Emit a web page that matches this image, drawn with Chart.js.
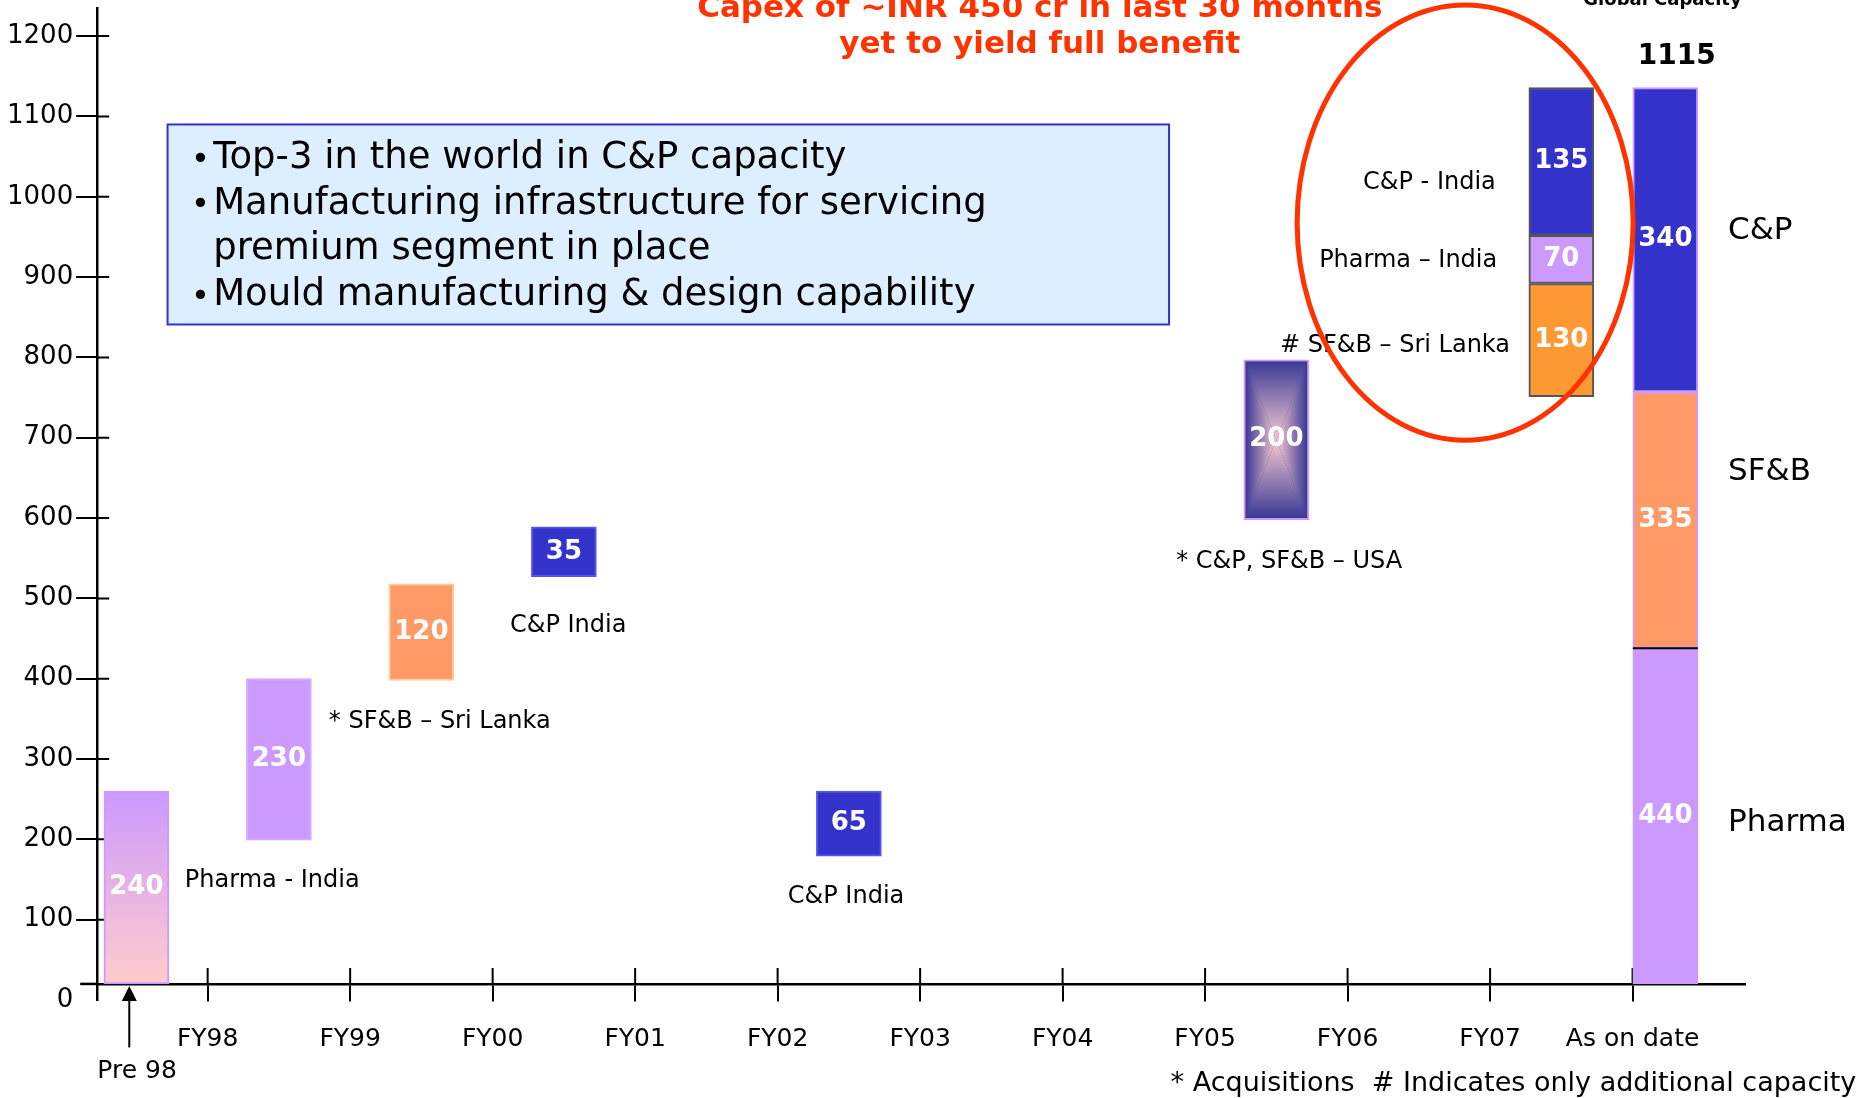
<!DOCTYPE html>
<html>
<head>
<meta charset="utf-8">
<title>Global capacity build-up</title>
<script src="https://cdn.jsdelivr.net/npm/chart.js@4.4.1/dist/chart.umd.min.js"></script>
<style>
  html, body { margin: 0; padding: 0; background: #ffffff; }
  canvas { display: block; }
</style>
</head>
<body>
<canvas id="capacityChart" width="1860" height="1098"></canvas>
<script>
// Capacity build-up (waterfall style)

const periods = ['Pre 98', 'FY98', 'FY99', 'FY00', 'FY01', 'FY02', 'FY03', 'FY04', 'FY05', 'FY06', 'FY07', 'As on date'];
const seriesNames = ['Pharma', 'SF&B', 'C&P'];

// each block: period, bottom and top on the y scale, printed value
const pharmaAt    = ['Pre 98', 'FY98', 'FY07', 'As on date'];
const pharmaFrom  = [20, 199, 892, 20];
const pharmaTo    = [260, 400, 952, 438];
const pharmaValue = [240, 230, 70, 440];

const sfbAt    = ['FY99', 'FY07', 'As on date'];
const sfbFrom  = [398, 751, 438];
const sfbTo    = [518, 892, 757];
const sfbValue = [120, 130, 335];

const cpAt    = ['FY00', 'FY02', 'FY07', 'As on date'];
const cpFrom  = [527, 179, 952, 757];
const cpTo    = [589, 260, 1136, 1136];
const cpValue = [35, 65, 135, 340];

const usaAt    = ['FY05'];
const usaFrom  = [598];
const usaTo    = [797];
const usaValue = [200];

const totalCapacity = 1115;
const baseLevel = 20;   // where the category axis sits on the y scale

const FONT = '"DejaVu Sans"';
const RED = '#FF3300';

// bars sit between two year ticks, the last one right on the "As on date" tick
const xOf = p => periods.indexOf(p) + (p === 'As on date' ? 0.23 : 0.5);

const points = (at, from, to, val) => at.map((p, i) => ({ x: xOf(p), y: [from[i], to[i]], period: p, value: val[i] }));

function pre98Gradient(c) {
  const chart = c.chart;
  if (!chart.chartArea || !c.raw) return '#CC99FF';
  const y = chart.scales.y;
  const g = chart.ctx.createLinearGradient(0, y.getPixelForValue(c.raw.y[1]), 0, y.getPixelForValue(c.raw.y[0]));
  g.addColorStop(0, '#CC99FF');
  g.addColorStop(1, '#FFCCCC');
  return g;
}

const datasets = [
  {
    label: seriesNames[0],
    data: points(pharmaAt, pharmaFrom, pharmaTo, pharmaValue),
    backgroundColor: c => (c.raw && c.raw.period === 'Pre 98') ? pre98Gradient(c) : '#CC99FF',
    borderColor: c => (c.raw && c.raw.period === 'FY07') ? '#555555' : (c.raw && c.raw.period === 'FY98' ? '#D4AAFF' : '#CC99FF')
  },
  {
    label: seriesNames[1],
    data: points(sfbAt, sfbFrom, sfbTo, sfbValue),
    backgroundColor: c => (c.raw && c.raw.period === 'FY07') ? '#FF9933' : '#FF9966',
    borderColor: c => (c.raw && c.raw.period === 'FY07') ? '#555555' : (c.raw && c.raw.period === 'FY99' ? '#FFCC99' : '#CC99FF')
  },
  {
    label: seriesNames[2],
    data: points(cpAt, cpFrom, cpTo, cpValue),
    backgroundColor: '#3333CC',
    borderColor: c => (c.raw && c.raw.period === 'FY07') ? '#555555' : (c.raw && c.raw.period === 'As on date' ? '#CC99FF' : '#5555EE')
  },
  {
    label: 'C&P, SF&B - USA',
    data: points(usaAt, usaFrom, usaTo, usaValue),
    backgroundColor: '#3A3A94',
    borderColor: '#CC99FF'
  }
].map(d => Object.assign(d, { borderWidth: 2, borderSkipped: false, barThickness: 65, grouped: false }));

// annotation layout, in axis units
const notes = [
  { text: 'Pharma - India', x: 0.84, y: 148, align: 'left' },
  { text: '* SF&B \u2013 Sri Lanka', x: 1.85, y: 347, align: 'left' },
  { text: 'C&P India', x: 3.53, y: 466, align: 'center' },
  { text: 'C&P India', x: 5.48, y: 128, align: 'center' },
  { text: '* C&P, SF&B \u2013 USA', x: 8.59, y: 546, align: 'center' },
  { text: '# SF&B \u2013 Sri Lanka', x: 10.14, y: 815, align: 'right' },
  { text: 'Pharma \u2013 India', x: 10.05, y: 920, align: 'right' },
  { text: 'C&P - India', x: 10.04, y: 1017, align: 'right' }
];
const seriesTagY = [221, 658, 958];
const boxLines = [
  { bullet: true, text: 'Top-3 in the world in C&P capacity' },
  { bullet: true, text: 'Manufacturing infrastructure for servicing' },
  { bullet: false, text: 'premium segment in place' },
  { bullet: true, text: 'Mould manufacturing & design capability' }
];
const titleLines = ['Capex of ~INR 450 cr in last 30 months', 'yet to yield full benefit'];

function put(ctx, str, x, y, font, color, align, baseline) {
  ctx.font = font;
  ctx.fillStyle = color;
  ctx.textAlign = align || 'left';
  ctx.textBaseline = baseline || 'middle';
  ctx.fillText(str, x, y);
}

const overlay = {
  id: 'overlay',
  beforeDatasetsDraw(chart) {
    // tick marks cross the axes in the original, and the base line runs a little past the value axis
    const { ctx, scales: { x, y } } = chart;
    const axisY = y.getPixelForValue(baseLevel);
    ctx.save();
    ctx.strokeStyle = '#000';
    ctx.lineWidth = 2;
    ctx.beginPath();
    x.ticks.forEach(t => {
      const px = x.getPixelForValue(t.value);
      ctx.moveTo(px, axisY);
      ctx.lineTo(px, axisY - 16);
    });
    y.ticks.forEach(t => {
      if (t.value === 0) return;
      const py = y.getPixelForValue(t.value);
      ctx.moveTo(x.left, py);
      ctx.lineTo(x.left + 12, py);
    });
    ctx.stroke();
    ctx.lineWidth = 2.5;
    ctx.beginPath();
    ctx.moveTo(x.left - 17, axisY);
    ctx.lineTo(x.left, axisY);
    ctx.stroke();
    ctx.restore();
  },
  afterDatasetDraw(chart, args) {
    const ctx = chart.ctx;
    if (args.index === 0) {
      // dark seam between Pharma and SF&B on the total column
      args.meta.data.forEach((el, i) => {
        if (chart.data.datasets[0].data[i].period !== 'As on date') return;
        const p = el.getProps(['x', 'y', 'width'], true);
        ctx.save();
        ctx.strokeStyle = '#000';
        ctx.lineWidth = 2;
        ctx.beginPath();
        ctx.moveTo(p.x - p.width / 2, p.y);
        ctx.lineTo(p.x + p.width / 2, p.y);
        ctx.stroke();
        ctx.restore();
      });
    }
    if (args.index !== 3) return;
    // rectangular "from centre" fill of the acquisition bar
    args.meta.data.forEach(el => {
      const p = el.getProps(['x', 'y', 'base', 'width'], true);
      const l = p.x - p.width / 2 + 2, r = p.x + p.width / 2 - 2;
      const t = Math.min(p.y, p.base) + 2, b = Math.max(p.y, p.base) - 2;
      const cx = (l + r) / 2, cy = (t + b) / 2;
      const parts = [
        [[l, t], [r, t], [l, t, l, cy]],
        [[l, b], [r, b], [l, b, l, cy]],
        [[l, t], [l, b], [l, t, cx, t]],
        [[r, t], [r, b], [r, t, cx, t]]
      ];
      ctx.save();
      parts.forEach(([a, c, g]) => {
        const grad = ctx.createLinearGradient(g[0], g[1], g[2], g[3]);
        grad.addColorStop(0, '#3A3A94');
        grad.addColorStop(1, '#F8CAD0');
        ctx.fillStyle = grad;
        ctx.beginPath();
        ctx.moveTo(a[0], a[1]);
        ctx.lineTo(c[0], c[1]);
        ctx.lineTo(cx, cy);
        ctx.closePath();
        ctx.fill();
      });
      ctx.restore();
    });
  },
  afterDatasetsDraw(chart) {
    const ctx = chart.ctx;
    ctx.save();
    chart.data.datasets.forEach((ds, di) => {
      chart.getDatasetMeta(di).data.forEach((el, i) => {
        const p = el.getProps(['x', 'y', 'base'], true);
        put(ctx, String(ds.data[i].value), p.x, (p.y + p.base) / 2, 'bold 26px ' + FONT, '#FFFFFF', 'center');
      });
    });
    ctx.restore();
  },
  afterDraw(chart) {
    const { ctx, scales: { x, y } } = chart;
    const X = v => x.getPixelForValue(v);
    const Y = v => y.getPixelForValue(v);
    ctx.save();

    // message box
    const bl = X(0.7186), br = X(7.747), bt = Y(1090), bb = Y(841);
    ctx.fillStyle = '#DDEEFF';
    ctx.fillRect(bl, bt, br - bl, bb - bt);
    ctx.strokeStyle = '#3333CC';
    ctx.lineWidth = 2;
    ctx.strokeRect(bl, bt, br - bl, bb - bt);
    boxLines.forEach((ln, i) => {
      const cy = bt + 34 + i * 45.7;
      if (ln.bullet) put(ctx, '\u2022', bl + 33, cy + 2, '32px ' + FONT, '#000', 'center');
      put(ctx, ln.text, bl + 45.6, cy, '37px ' + FONT, '#000', 'left');
    });

    // headline
    put(ctx, titleLines[0], X(6.84), Y(1223.7), 'bold 31px ' + FONT, RED, 'center', 'alphabetic');
    put(ctx, titleLines[1], X(6.84), Y(1178.5), 'bold 31px ' + FONT, RED, 'center', 'alphabetic');

    // block captions
    notes.forEach(n => put(ctx, n.text, X(n.x), Y(n.y), '24px ' + FONT, '#000', n.align));

    // global capacity column
    put(ctx, 'Global Capacity', X(11.21), Y(1238.7), 'bold 18px ' + FONT, '#000', 'center', 'alphabetic');
    put(ctx, String(totalCapacity), X(11.31), Y(1165.8), 'bold 28px ' + FONT, '#000', 'center', 'alphabetic');
    seriesNames.forEach((s, i) => put(ctx, s, X(11.67), Y(seriesTagY[i]), '31px ' + FONT, '#000', 'left'));

    // Pre 98 pointer
    const ax = X(0.45), tip = Y(baseLevel) + 2;
    ctx.strokeStyle = '#000';
    ctx.fillStyle = '#000';
    ctx.lineWidth = 2;
    ctx.beginPath();
    ctx.moveTo(ax, Y(-59));
    ctx.lineTo(ax, tip + 12);
    ctx.stroke();
    ctx.beginPath();
    ctx.moveTo(ax, tip);
    ctx.lineTo(ax - 7.5, tip + 15);
    ctx.lineTo(ax + 7.5, tip + 15);
    ctx.closePath();
    ctx.fill();
    put(ctx, periods[0], X(0.505), Y(-89), '25px ' + FONT, '#000', 'center');

    // footnote
    put(ctx, '* Acquisitions  # Indicates only additional capacity', X(12.57), Y(-104), '27px ' + FONT, '#000', 'right');

    // ring round the last 30 months
    ctx.strokeStyle = RED;
    ctx.lineWidth = 5;
    ctx.beginPath();
    ctx.ellipse(X(9.825), Y(967.8), X(9.825 + 1.179) - X(9.825), Y(967.8) - Y(967.8 + 270.9), 0, 0, Math.PI * 2);
    ctx.stroke();
    ctx.restore();
  }
};

new Chart(document.getElementById('capacityChart'), {
  type: 'bar',
  data: { datasets },
  options: {
    responsive: false,
    devicePixelRatio: 1,
    animation: false,
    events: [],
    layout: { padding: { left: 4, top: 8, right: 115, bottom: 98 } },
    plugins: { legend: { display: false }, tooltip: { enabled: false } },
    scales: {
      x: {
        type: 'linear',
        min: 0.2246,
        max: 11.789,
        offset: false,
        position: { y: baseLevel },
        border: { color: '#000', width: 2.5 },
        grid: { offset: false, drawOnChartArea: false, tickLength: 16, lineWidth: 2, color: '#000' },
        ticks: {
          stepSize: 1,
          maxTicksLimit: 30,
          autoSkip: false,
          maxRotation: 0,
          padding: 25,
          color: '#000',
          font: { family: 'DejaVu Sans', size: 25 },
          callback: v => (v > 0 && periods[v]) ? periods[v] : ''
        },
        // one tick per year boundary, "Pre 98" is pointed at separately
        afterBuildTicks: axis => { axis.ticks = periods.map((p, i) => ({ value: i })).slice(1); }
      },
      y: {
        type: 'linear',
        min: 0,
        max: 1235,
        position: 'left',
        border: { color: '#000', width: 2.5 },
        grid: {
          drawOnChartArea: false,
          tickLength: 21,
          lineWidth: 2,
          color: c => (c.tick && c.tick.value === 0) ? 'rgba(0,0,0,0)' : '#000'
        },
        ticks: {
          stepSize: 100,
          maxTicksLimit: 30,
          autoSkip: false,
          padding: 3,
          color: '#000',
          font: { family: 'DejaVu Sans', size: 26, lineHeight: 0.1 },
          callback: v => String(v)
        },
        afterBuildTicks: axis => { axis.ticks = axis.ticks.filter(t => t.value % 100 === 0); }
      }
    }
  },
  plugins: [overlay]
});
</script>
</body>
</html>
